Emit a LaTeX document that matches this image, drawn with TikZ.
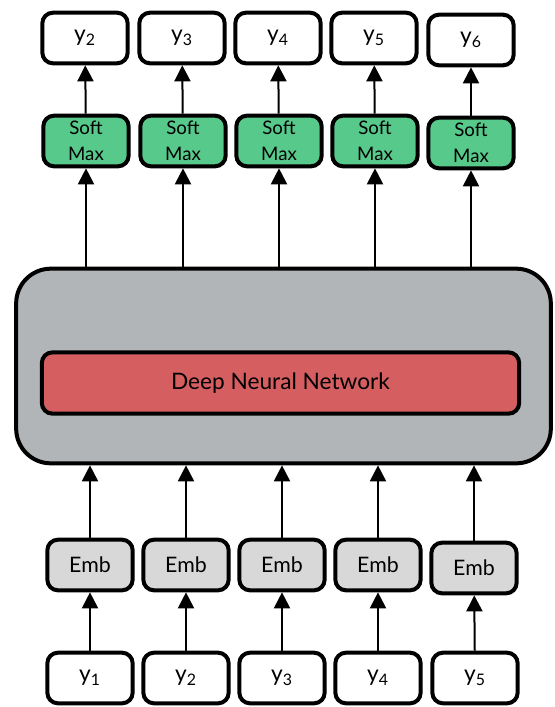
\documentclass[tikz,border=0pt]{standalone}
\usepackage{fontspec}
\setmainfont{Lato}
\usetikzlibrary{arrows.meta}

\definecolor{smgreen}{HTML}{56C98B}
\definecolor{dnnred}{HTML}{D55E61}
\definecolor{boxgray}{HTML}{B1B5B8}
\definecolor{embgray}{HTML}{D8D8D8}

\tikzset{
  tok/.style={draw, line width=3pt, rounded corners=8pt, fill=white,
    minimum width=64pt, minimum height=38pt, inner sep=0pt,
    font=\fontsize{17}{19}\selectfont},
  smax/.style={tok, fill=smgreen, align=center, font=\fontsize{14}{19.5}\selectfont},
  emb/.style={tok, fill=embgray, font=\fontsize{16}{18}\selectfont},
  up/.style={line width=1.5pt, -{Triangle[width=12pt,length=12pt]}}
}

\begin{document}
\begin{tikzpicture}[x=0.75pt, y=-0.75pt]
        \useasboundingbox (0,0) rectangle (555,707);

        \node[style=tok] (out1) at (85,38) {y\textsubscript{2}};
        \node[style=tok] (out2) at (182,38) {y\textsubscript{3}};
        \node[style=tok] (out3) at (278,38) {y\textsubscript{4}};
        \node[style=tok] (out4) at (374,38) {y\textsubscript{5}};
        \node[style=tok] (out5) at (471,40) {y\textsubscript{6}};

        \node[style=smax] (sm1) at (86,141) {Soft\\Max};
        \node[style=smax] (sm2) at (183,141) {Soft\\Max};
        \node[style=smax] (sm3) at (279,141) {Soft\\Max};
        \node[style=smax] (sm4) at (375,141) {Soft\\Max};
        \node[style=smax] (sm5) at (471,143) {Soft\\Max};

        \node[draw, line width=3pt, rounded corners=26pt, fill=boxgray, minimum width=401pt, minimum height=146pt] (body) at (283.5,366) {};
        \node[draw, line width=3pt, rounded corners=8pt, fill=dnnred, minimum width=358pt, minimum height=46pt, font=\fontsize{17}{19}\selectfont] (dnn) at (280.5,383) {Deep Neural Network};

        \node[style=emb] (emb1) at (90,565) {Emb};
        \node[style=emb] (emb2) at (186,565) {Emb};
        \node[style=emb] (emb3) at (282,565) {Emb};
        \node[style=emb] (emb4) at (378,565) {Emb};
        \node[style=emb] (emb5) at (474,568) {Emb};

        \node[style=tok] (in1) at (90,678) {y\textsubscript{1}};
        \node[style=tok] (in2) at (186,678) {y\textsubscript{2}};
        \node[style=tok] (in3) at (282,678) {y\textsubscript{3}};
        \node[style=tok] (in4) at (378,678) {y\textsubscript{4}};
        \node[style=tok] (in5) at (475,678) {y\textsubscript{5}};

        \draw[up] (sm1) -- (out1);
        \draw[up] (sm2) -- (out2);
        \draw[up] (sm3) -- (out3);
        \draw[up] (sm4) -- (out4);
        \draw[up] (sm5) -- (out5);

        \draw[up] (body.north -| sm1) -- (sm1);
        \draw[up] (body.north -| sm2) -- (sm2);
        \draw[up] (body.north -| sm3) -- (sm3);
        \draw[up] (body.north -| sm4) -- (sm4);
        \draw[up] (body.north -| sm5) -- (sm5);

        \draw[up] (emb1) -- (emb1 |- body.south);
        \draw[up] (emb2) -- (emb2 |- body.south);
        \draw[up] (emb3) -- (emb3 |- body.south);
        \draw[up] (emb4) -- (emb4 |- body.south);
        \draw[up] (emb5) -- (emb5 |- body.south);

        \draw[up] (in1) -- (emb1);
        \draw[up] (in2) -- (emb2);
        \draw[up] (in3) -- (emb3);
        \draw[up] (in4) -- (emb4);
        \draw[up] (in5) -- (emb5);
    \end{tikzpicture}
\end{document}
